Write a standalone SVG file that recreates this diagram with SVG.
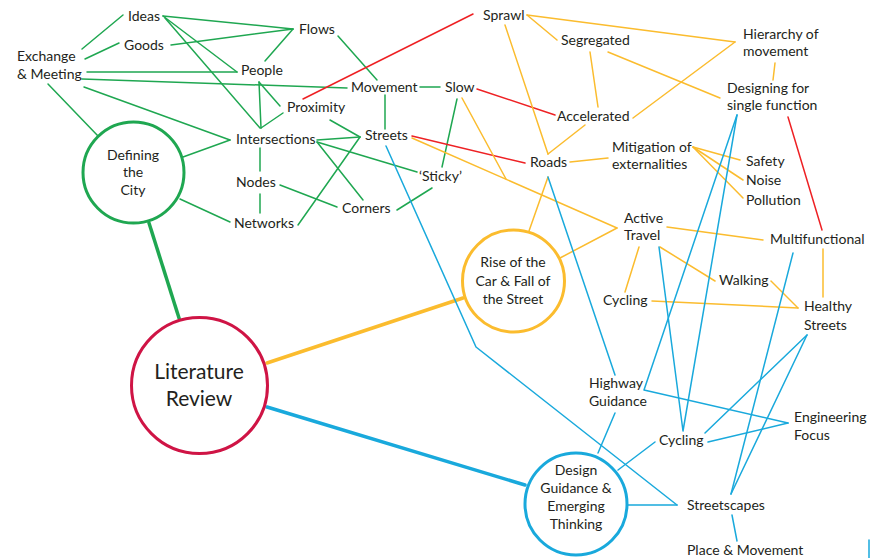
<svg xmlns="http://www.w3.org/2000/svg" width="871" height="558" viewBox="0 0 871 558">
<style>
text{font-family:Lato,"Open Sans","DejaVu Sans",sans-serif;font-size:14px;fill:#231f20}
.c{text-anchor:middle}
.big{font-size:21px}
line,polyline{fill:none;stroke-width:1.5;stroke-linecap:round;stroke-linejoin:round}
.g{stroke:#1fa751}.r{stroke:#ee2124}.o{stroke:#fbbc2e}.b{stroke:#19a9dc}
.thick{stroke-width:3.5}
circle{fill:#fff;stroke-width:3}
</style>
<rect width="871" height="558" fill="#fff"/>
<g id="connectors">
<g id="green">
<line class="g" x1="82" y1="49" x2="123" y2="15"/>
<line class="g" x1="85" y1="59" x2="119" y2="43"/>
<line class="g" x1="163" y1="16" x2="293" y2="29"/>
<line class="g" x1="171" y1="45" x2="293" y2="29"/>
<line class="g" x1="265" y1="61" x2="293" y2="29"/>
<line class="g" x1="163" y1="16" x2="237" y2="72"/>
<line class="g" x1="165" y1="18" x2="260" y2="128"/>
<line class="g" x1="87" y1="72" x2="237" y2="72"/>
<line class="g" x1="82" y1="79" x2="347" y2="88"/>
<line class="g" x1="84" y1="87" x2="230" y2="140"/>
<line class="g" x1="48" y1="84" x2="98" y2="136"/>
<line class="g" x1="183" y1="157" x2="230" y2="140"/>
<line class="g" x1="180" y1="199" x2="230" y2="222"/>
<line class="g" x1="259" y1="82" x2="261" y2="128"/>
<line class="g" x1="259" y1="82" x2="280" y2="106"/>
<line class="g" x1="261" y1="128" x2="283" y2="113"/>
<line class="g" x1="260" y1="148" x2="260" y2="171"/>
<line class="g" x1="260" y1="194" x2="260" y2="213"/>
<line class="g" x1="280" y1="185" x2="337" y2="207"/>
<line class="g" x1="298" y1="225" x2="360" y2="137"/>
<line class="g" x1="317" y1="140" x2="360" y2="137"/>
<line class="g" x1="330" y1="120" x2="360" y2="137"/>
<line class="g" x1="317" y1="142" x2="363" y2="200"/>
<line class="g" x1="317" y1="142" x2="417" y2="172"/>
<line class="g" x1="397" y1="210" x2="432" y2="188"/>
<line class="g" x1="385" y1="95" x2="385" y2="129"/>
<line class="g" x1="420" y1="87" x2="440" y2="87"/>
<line class="g" x1="338" y1="36" x2="377" y2="80"/>
<line class="g" x1="457" y1="99" x2="442" y2="167"/>
<line class="g thick" x1="149" y1="223" x2="179" y2="318"/>
</g>
<g id="red">
<line class="r" x1="473" y1="14" x2="303" y2="99"/>
<line class="r" x1="477" y1="89" x2="555" y2="115"/>
<line class="r" x1="412" y1="136" x2="525" y2="163"/>
<line class="r" x1="788" y1="117" x2="822" y2="230"/>
</g>
<g id="orange">
<line class="o" x1="527" y1="15" x2="735" y2="42"/>
<line class="o" x1="527" y1="15" x2="557" y2="40"/>
<line class="o" x1="505" y1="25" x2="548" y2="154"/>
<line class="o" x1="585" y1="125" x2="548" y2="154"/>
<line class="o" x1="590" y1="52" x2="598" y2="107"/>
<line class="o" x1="608" y1="52" x2="720" y2="98"/>
<line class="o" x1="735" y1="42" x2="633" y2="118"/>
<line class="o" x1="775" y1="63" x2="773" y2="80"/>
<line class="o" x1="570" y1="162" x2="608" y2="158"/>
<line class="o" x1="693" y1="147" x2="740" y2="160"/>
<line class="o" x1="693" y1="147" x2="743" y2="180"/>
<line class="o" x1="693" y1="147" x2="743" y2="198"/>
<line class="o" x1="462" y1="98" x2="506" y2="179"/>
<line class="o" x1="412" y1="138" x2="617" y2="228"/>
<line class="o" x1="617" y1="228" x2="560" y2="258"/>
<line class="o" x1="548" y1="177" x2="529" y2="231"/>
<line class="o" x1="667" y1="227" x2="763" y2="240"/>
<line class="o" x1="639" y1="247" x2="625" y2="292"/>
<line class="o" x1="660" y1="247" x2="715" y2="281"/>
<line class="o" x1="771" y1="281" x2="798" y2="308"/>
<line class="o" x1="652" y1="301" x2="798" y2="308"/>
<line class="o" x1="823" y1="249" x2="823" y2="297"/>
<line class="o thick" x1="267" y1="363" x2="463" y2="298"/>
</g>
<g id="blue">
<polyline class="b" points="386,146 476,347 677,505"/>
<line class="b" x1="628" y1="505" x2="677" y2="505"/>
<line class="b" x1="731" y1="494" x2="807" y2="335"/>
<line class="b" x1="731" y1="494" x2="793" y2="253"/>
<line class="b" x1="732" y1="515" x2="737" y2="541"/>
<line class="b" x1="705" y1="433" x2="807" y2="335"/>
<line class="b" x1="708" y1="442" x2="788" y2="423"/>
<polyline class="b" points="737,115 644,390 788,423"/>
<polyline class="b" points="659,247 683,431 737,115"/>
<line class="b" x1="548" y1="177" x2="615" y2="375"/>
<line class="b" x1="615" y1="413" x2="598" y2="453"/>
<line class="b" x1="655" y1="442" x2="618" y2="470"/>
<line class="b thick" x1="267" y1="407" x2="525" y2="485"/>
<line class="b" x1="869" y1="540" x2="869" y2="558" stroke-width="2"/>
</g>
</g>
<g id="n-literature"><circle cx="199.5" cy="385.5" r="68" stroke="#cf1445"/><text class="c big" x="199" y="379">Literature</text><text class="c big" x="199" y="406">Review</text></g>
<g id="n-defining"><circle cx="133.5" cy="172.5" r="50.5" stroke="#1fa751"/><text class="c" x="133" y="160">Defining</text><text class="c" x="133" y="177">the</text><text class="c" x="133" y="195">City</text></g>
<g id="n-rise"><circle cx="513.5" cy="281" r="51" stroke="#fbbc2e"/><text class="c" x="513" y="267">Rise of the</text><text class="c" x="513" y="286">Car &amp; Fall of</text><text class="c" x="513" y="304">the Street</text></g>
<g id="n-design"><circle cx="576" cy="504" r="51" stroke="#19a9dc"/><text class="c" x="576" y="475">Design</text><text class="c" x="576" y="493">Guidance &amp;</text><text class="c" x="576" y="511">Emerging</text><text class="c" x="576" y="529">Thinking</text></g>
<g id="n-ideas"><text x="128" y="21">Ideas</text></g>
<g id="n-goods"><text x="124" y="50">Goods</text></g>
<g id="n-exchange"><text x="17" y="61">Exchange</text><text x="17" y="79">&amp; Meeting</text></g>
<g id="n-flows"><text x="299" y="34">Flows</text></g>
<g id="n-people"><text x="241" y="75">People</text></g>
<g id="n-proximity"><text x="287" y="112">Proximity</text></g>
<g id="n-movement"><text x="351" y="92">Movement</text></g>
<g id="n-slow"><text x="445" y="92">Slow</text></g>
<g id="n-intersections"><text x="236" y="144">Intersections</text></g>
<g id="n-streets"><text x="365" y="140">Streets</text></g>
<g id="n-sticky"><text x="419" y="181">‘Sticky’</text></g>
<g id="n-nodes"><text x="236" y="187">Nodes</text></g>
<g id="n-corners"><text x="342" y="213">Corners</text></g>
<g id="n-networks"><text x="234" y="228">Networks</text></g>
<g id="n-sprawl"><text x="483" y="20">Sprawl</text></g>
<g id="n-segregated"><text x="561" y="45">Segregated</text></g>
<g id="n-accelerated"><text x="557" y="121">Accelerated</text></g>
<g id="n-roads"><text x="530" y="167">Roads</text></g>
<g id="n-mitigation"><text x="612" y="152">Mitigation of</text><text x="612" y="169">externalities</text></g>
<g id="n-hierarchy"><text x="743" y="39">Hierarchy of</text><text x="743" y="56">movement</text></g>
<g id="n-designing"><text x="727" y="93">Designing for</text><text x="727" y="110">single function</text></g>
<g id="n-safety"><text x="746" y="166">Safety</text></g>
<g id="n-noise"><text x="746" y="185">Noise</text></g>
<g id="n-pollution"><text x="746" y="205">Pollution</text></g>
<g id="n-active"><text x="624" y="223">Active</text><text x="624" y="240">Travel</text></g>
<g id="n-multifunctional"><text x="770" y="244">Multifunctional</text></g>
<g id="n-walking"><text x="719" y="285">Walking</text></g>
<g id="n-cycling1"><text x="603" y="305">Cycling</text></g>
<g id="n-healthy"><text x="804" y="311">Healthy</text><text x="804" y="330">Streets</text></g>
<g id="n-highway"><text x="589" y="388">Highway</text><text x="589" y="406">Guidance</text></g>
<g id="n-engineering"><text x="794" y="422">Engineering</text><text x="794" y="440">Focus</text></g>
<g id="n-cycling2"><text x="659" y="445">Cycling</text></g>
<g id="n-streetscapes"><text x="687" y="510">Streetscapes</text></g>
<g id="n-place"><text x="687" y="555">Place &amp; Movement</text></g>
</svg>
